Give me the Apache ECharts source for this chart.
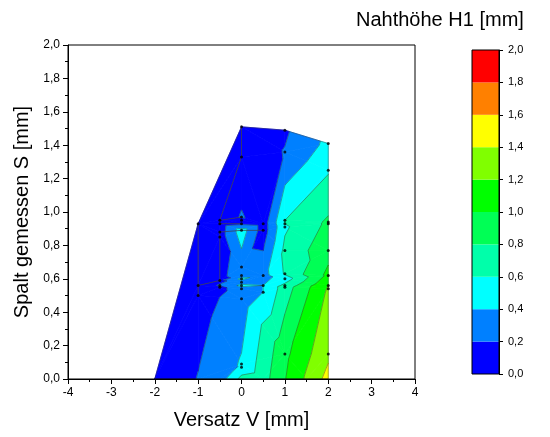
<!DOCTYPE html>
<html><head><meta charset="utf-8">
<script src="https://cdn.jsdelivr.net/npm/echarts@6/dist/echarts.min.js"></script>
<style>html,body{margin:0;padding:0;background:#fff}#c{width:550px;height:437px}</style>
</head><body><div id="c"></div><script>
// measured points: Versatz V, Spalt S, Nahthöhe H1
const measV = [0,1,2,0,1,2,-1,-0.5,-0.5,0,0,0,0,0.5,0.5,1,1,1,2,2,-0.5,-0.5,1,2,0,0,0.5,1,2,0,0,-0.5,-0.5,-0.5,-1,0,0,0.5,1,1,1,2,2,0.5,0,-1,1,2,0,0];
const measS = [1.51,1.49,1.41,1.33,1.36,1.25,0.93,0.95,0.93,0.97,0.95,0.93,0.89,0.93,0.89,0.95,0.93,0.91,0.94,0.93,0.88,0.85,0.77,0.77,0.67,0.62,0.62,0.63,0.62,0.60,0.58,0.59,0.56,0.55,0.56,0.56,0.54,0.56,0.60,0.56,0.55,0.56,0.54,0.52,0.48,0.50,0.15,0.15,0.09,0.07];
const measZ = [0.05,0.17,0.45,0.05,0.21,0.58,0.03,0.06,0.08,0.22,0.12,0.15,0.5,0.1,0.1,0.6,0.6,0.57,0.83,0.84,0.1,0.1,0.65,0.93,0.3,0.25,0.32,0.62,1.05,0.45,0.3,0.15,0.22,0.15,0.08,0.45,0.3,0.4,0.5,0.65,0.7,1.2,1.22,0.4,0.3,0.1,0.95,1.36,0.42,0.48];
// boundary nodes on S = 0
const edgeV = [-2,-1,-0.5,0,0.5,1,1.5,2];
const edgeS = [0,0,0,0,0,0,0,0];
const edgeZ = [0.0,0.21,0.3,0.66,0.72,0.99,1.23,1.47];
// connecting line drawn over the contour
const pathV = [0,0,-0.5,0,null,-0.5,-0.5,0,null,-1,-1,null,-1,-0.5,-0.5,0,0.5];
const pathS = [1.51,1.33,0.95,0.97,null,0.95,0.93,0.93,null,0.93,0.50,null,0.56,0.59,0.88,0.89,0.89];
// contour levels and colours
const levels = [0,0.2,0.4,0.6,0.8,1.0,1.2,1.4,1.6,1.8,2.0];
const levelColors = ['#0000ff','#0080ff','#00ffff','#00ffaa','#00ff55','#00ff00','#80ff00','#ffff00','#ff8000','#ff0000'];

const fmt = v => v.toFixed(1).replace('.', ',');
const FONT = 'Liberation Sans, Arial, sans-serif';
const S_ASPECT = 3.85; // triangulate in display-proportional space

// ---- Delaunay triangulation (Bowyer-Watson) ----
const P = [];
for (let i = 0; i < measV.length; i++) P.push([measV[i], measS[i], measZ[i] + 1e-7]);
for (let i = 0; i < edgeV.length; i++) P.push([edgeV[i], edgeS[i], edgeZ[i] + 1e-7]);
function delaunay(pts) {
  const n = pts.length;
  const Q = pts.map(p => [p[0], p[1] * S_ASPECT]);
  let minX = Infinity, minY = Infinity, maxX = -Infinity, maxY = -Infinity;
  Q.forEach(p => { minX = Math.min(minX, p[0]); maxX = Math.max(maxX, p[0]); minY = Math.min(minY, p[1]); maxY = Math.max(maxY, p[1]); });
  const d = Math.max(maxX - minX, maxY - minY) * 50, mx = (minX + maxX) / 2, my = (minY + maxY) / 2;
  Q.push([mx - d, my - d], [mx, my + d], [mx + d, my - d]);
  function cc(t) {
    const [ax, ay] = Q[t[0]], [bx, by] = Q[t[1]], [cx, cy] = Q[t[2]];
    const D = 2 * (ax * (by - cy) + bx * (cy - ay) + cx * (ay - by));
    const ux = ((ax*ax+ay*ay)*(by-cy)+(bx*bx+by*by)*(cy-ay)+(cx*cx+cy*cy)*(ay-by)) / D;
    const uy = ((ax*ax+ay*ay)*(cx-bx)+(bx*bx+by*by)*(ax-cx)+(cx*cx+cy*cy)*(bx-ax)) / D;
    return [ux, uy, (ax-ux)*(ax-ux)+(ay-uy)*(ay-uy)];
  }
  let tris = [{v:[n, n+1, n+2]}];
  tris[0].c = cc(tris[0].v);
  for (let i = 0; i < n; i++) {
    const [px, py] = Q[i];
    const bad = [], keep = [];
    for (const t of tris) {
      const dx = px - t.c[0], dy = py - t.c[1];
      if (dx*dx + dy*dy < t.c[2] * (1 - 1e-10)) bad.push(t); else keep.push(t);
    }
    const ec = new Map();
    for (const t of bad) for (let e = 0; e < 3; e++) {
      const a = t.v[e], b = t.v[(e+1)%3];
      const k = a < b ? a + '_' + b : b + '_' + a;
      ec.set(k, ec.has(k) ? null : [a, b]);
    }
    for (const e of ec.values()) if (e) { const t = {v:[e[0], e[1], i]}; t.c = cc(t.v); keep.push(t); }
    tris = keep;
  }
  return tris.filter(t => t.v.every(x => x < n)).map(t => t.v);
}
const tris = delaunay(P);

// ---- band polygons and contour segments ----
function clip(poly, lev, above) {
  const out = [];
  for (let i = 0; i < poly.length; i++) {
    const cur = poly[i], prev = poly[(i + poly.length - 1) % poly.length];
    const cin = above ? cur[2] >= lev : cur[2] <= lev;
    const pin = above ? prev[2] >= lev : prev[2] <= lev;
    if (cin !== pin) {
      const t = (lev - prev[2]) / (cur[2] - prev[2]);
      out.push([prev[0] + t*(cur[0]-prev[0]), prev[1] + t*(cur[1]-prev[1]), lev]);
    }
    if (cin) out.push(cur);
  }
  return out;
}
const bandPolys = [], segs = [];
const edgeCount = new Map();
tris.forEach(t => {
  const tri = t.map(i => P[i]);
  for (let k = 0; k < levels.length - 1; k++) {
    const poly = clip(clip(tri, levels[k], true), levels[k+1], false);
    if (poly.length >= 3) bandPolys.push({k: k, pts: poly});
  }
  for (let L = 1; L < levels.length - 1; L++) {
    const lev = levels[L], cr = [];
    for (let e = 0; e < 3; e++) {
      const a = tri[e], b = tri[(e+1)%3];
      if ((a[2]-lev)*(b[2]-lev) < 0) {
        const s = (lev - a[2]) / (b[2] - a[2]);
        cr.push([a[0] + s*(b[0]-a[0]), a[1] + s*(b[1]-a[1])]);
      }
    }
    if (cr.length === 2) segs.push([cr[0], cr[1]]);
  }
  for (let e = 0; e < 3; e++) {
    const a = t[e], b = t[(e+1)%3];
    const k = a < b ? a + '_' + b : b + '_' + a;
    edgeCount.set(k, (edgeCount.get(k) || 0) + 1);
  }
});
edgeCount.forEach((c, k) => { if (c === 1) { const [a, b] = k.split('_').map(Number); segs.push([[P[a][0], P[a][1]], [P[b][0], P[b][1]]]); } });

const chart = echarts.init(document.getElementById('c'));
const cbSeries = levelColors.map((col, k) => ({
  type: 'bar', xAxisIndex: 1, yAxisIndex: 1, stack: 'cb', barWidth: '100%', barCategoryGap: 0,
  data: [levels[k+1] - levels[k]], itemStyle: {color: col}, silent: true
}));
chart.setOption({
  animation: false,
  title: {text: 'Nahthöhe H1 [mm]', left: 351, top: 5, textStyle: {fontFamily: FONT, fontSize: 20, fontWeight: 'normal', color: '#000'}},
  grid: [
    {left: 68, top: 45, width: 347, height: 334, show: true, borderColor: '#000', borderWidth: 1, z: 10},
    {left: 472, top: 50, width: 27, height: 324, show: true, borderColor: '#000', borderWidth: 1, z: 10}
  ],
  xAxis: [
    {type: 'value', gridIndex: 0, min: -4, max: 4, interval: 1, z: 10,
     name: 'Versatz V [mm]', nameLocation: 'middle', nameGap: 31,
     nameTextStyle: {fontFamily: FONT, fontSize: 20, color: '#000'},
     axisLine: {onZero: false, lineStyle: {color: '#000'}}, axisTick: {length: 5, lineStyle: {color: '#000'}},
     minorTick: {show: true, splitNumber: 2, length: 3, lineStyle: {color: '#000'}},
     splitLine: {show: false}, minorSplitLine: {show: false},
     axisLabel: {fontFamily: FONT, fontSize: 12, color: '#000', margin: 8}},
    {type: 'category', gridIndex: 1, data: ['H1'], show: false}
  ],
  yAxis: [
    {type: 'value', gridIndex: 0, min: 0, max: 2, interval: 0.2, z: 10,
     name: 'Spalt gemessen S [mm]', nameLocation: 'middle', nameGap: 36,
     nameTextStyle: {fontFamily: FONT, fontSize: 20, color: '#000'},
     axisLine: {show: true, onZero: false, lineStyle: {color: '#000'}}, axisTick: {show: true, length: 5, lineStyle: {color: '#000'}},
     minorTick: {show: true, splitNumber: 2, length: 3, lineStyle: {color: '#000'}},
     splitLine: {show: false}, minorSplitLine: {show: false},
     axisLabel: {fontFamily: FONT, fontSize: 12, color: '#000', margin: 8, formatter: fmt}},
    {type: 'value', gridIndex: 1, min: 0, max: 2, interval: 0.2, position: 'right', z: 10,
     axisLine: {show: true, onZero: false, lineStyle: {color: '#000'}}, axisTick: {show: true, length: 4, lineStyle: {color: '#000'}},
     splitLine: {show: false},
     axisLabel: {fontFamily: FONT, fontSize: 11, color: '#000', margin: 9, formatter: fmt}}
  ],
  series: [
    {type: 'custom', xAxisIndex: 0, yAxisIndex: 0, z: 1, silent: true,
     data: bandPolys.map(b => [b.pts[0][0], b.pts[0][1]]),
     renderItem: function (params, api) {
       const b = bandPolys[params.dataIndex];
       const pts = b.pts.map(p => api.coord([p[0], p[1]]));
       return {type: 'polygon', shape: {points: pts}, style: {fill: levelColors[b.k], stroke: levelColors[b.k], lineWidth: 0.8}};
     }},
    {type: 'custom', xAxisIndex: 0, yAxisIndex: 0, z: 2, silent: true,
     data: segs.map(s => [s[0][0], s[0][1]]),
     renderItem: function (params, api) {
       const s = segs[params.dataIndex];
       return {type: 'polyline', shape: {points: [api.coord(s[0]), api.coord(s[1])]}, style: {stroke: '#3a3a3a', lineWidth: 0.6, opacity: 0.75}};
     }},
    {type: 'line', xAxisIndex: 0, yAxisIndex: 0, z: 3, silent: true, symbol: 'none', connectNulls: false,
     data: pathV.map((v, i) => v === null ? [null, null] : [v, pathS[i]]),
     lineStyle: {color: '#404050', width: 0.8}},
    {type: 'scatter', xAxisIndex: 0, yAxisIndex: 0, z: 4, silent: true, symbolSize: 3,
     data: measV.map((v, i) => [v, measS[i]]), itemStyle: {color: '#000'}}
  ].concat(cbSeries)
});
</script></body></html>
